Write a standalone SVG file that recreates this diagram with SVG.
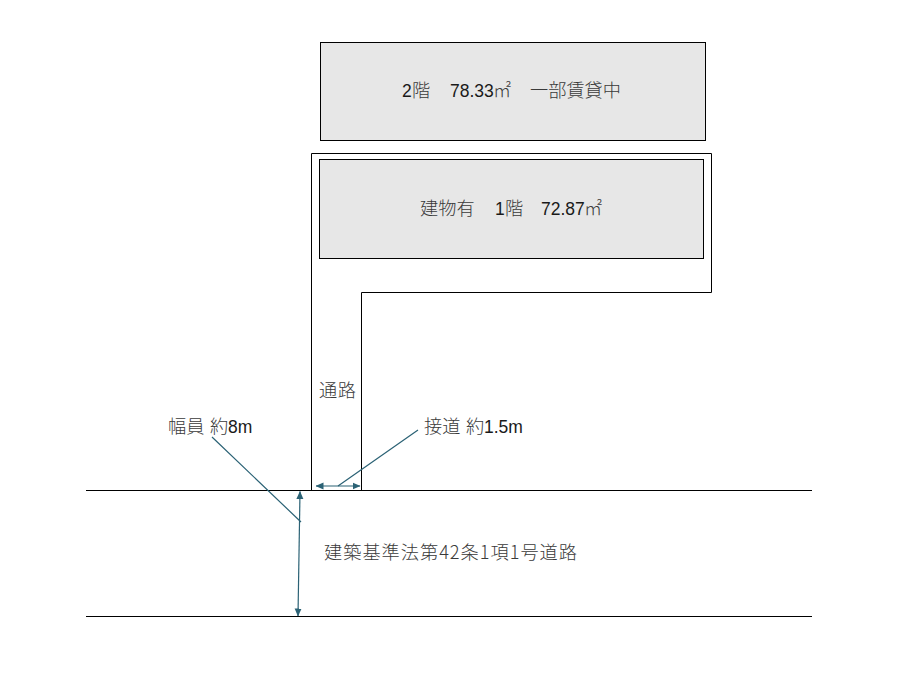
<svg xmlns="http://www.w3.org/2000/svg" width="900" height="675" viewBox="0 0 900 675">
<style>
text{font-family:"Noto Sans CJK JP","Liberation Sans",sans-serif;font-size:18.200px;font-weight:300;fill:#3a3a3a}
.n{font-family:"Liberation Sans",Arial,sans-serif;font-size:17.500px;font-weight:400;fill:#1a1a1a}
.b{fill:#e7e7e7;stroke:#000;stroke-width:1}
.l{fill:none;stroke:#000;stroke-width:1}
.c{fill:none;stroke:#2b6275;stroke-width:1.200}
</style>
<defs><marker id="a" markerUnits="userSpaceOnUse" viewBox="0 0 8 8" refX="7.500" refY="4" markerWidth="8" markerHeight="8" orient="auto-start-reverse"><path d="M0 0.500L8 4L0 7.500Z" fill="#2b6275"/></marker></defs>
<rect width="900" height="675" fill="#fff"/>
<g id="lot"><path class="l" d="M311.500 490.500V153.500H711.500V292.500H361.500V490.500"/></g>
<g id="floor2"><rect class="b" x="320.500" y="42.500" width="385" height="98"/><text y="97"><tspan class="n" x="402">2</tspan><tspan x="412">階</tspan><tspan class="n" x="450">78.33</tspan><tspan x="493">㎡</tspan><tspan x="530">一部賃貸中</tspan></text></g>
<g id="floor1"><rect class="b" x="319.500" y="159.500" width="384" height="99"/><text y="215"><tspan x="420">建物有</tspan><tspan class="n" x="495">1</tspan><tspan x="505">階</tspan><tspan class="n" x="541">72.87</tspan><tspan x="584">㎡</tspan></text></g>
<g id="road"><path class="l" d="M86 490.500H812M86 616.500H812"/><text x="324" y="558.500" textLength="253" lengthAdjust="spacing">建築基準法第42条1項1号道路</text></g>
<g id="labels"><text x="319" y="397" textLength="37">通路</text><text y="433"><tspan x="168">幅員</tspan><tspan x="210">約</tspan><tspan class="n" x="228">8m</tspan></text><text y="433"><tspan x="424">接道</tspan><tspan x="466">約</tspan><tspan class="n" x="484">1.5m</tspan></text></g>
<g id="connectors">
<path class="c" marker-start="url(#a)" marker-end="url(#a)" d="M300 491.500L298 616"/>
<path class="c" marker-start="url(#a)" marker-end="url(#a)" d="M316 486H360"/>
<path class="c" d="M212 437L301 522M418 430L338 486"/>
</g>
</svg>
